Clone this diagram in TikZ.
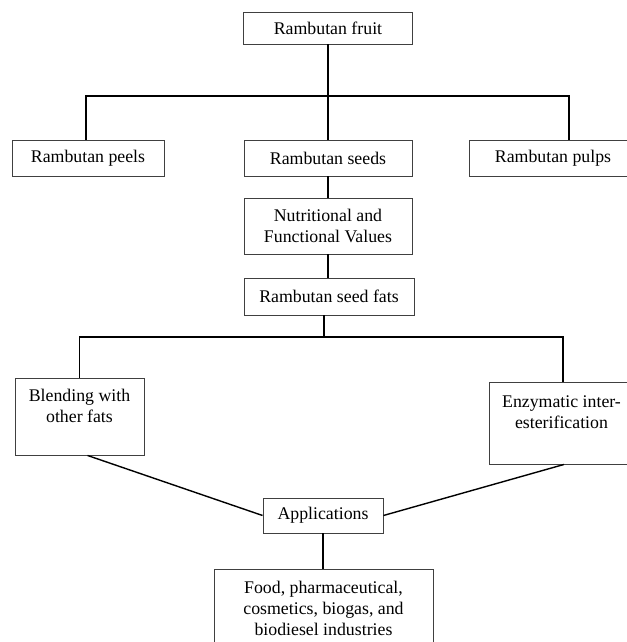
\documentclass[tikz,border=0pt]{standalone}
\usepackage{fontspec}
\setmainfont{Liberation Serif}
\usetikzlibrary{positioning,calc}

\tikzset{
  stage/.style={draw=black!75, line width=0.9pt, fill=white, align=center, inner sep=0pt,
                font=\fontsize{17.8}{21}\selectfont},
  link/.style={line width=1.4pt, black}
}

\begin{document}
\begin{tikzpicture}[x=1pt, y=-1pt]
    \useasboundingbox (0,0) rectangle (626,642);

    % Fruit and its parts
    \node[stage, minimum width=169pt, minimum height=32pt] (fruit) at (328,28) {Rambutan fruit};
    \node[stage, minimum width=152pt, minimum height=36pt] (peels) at (88,158) {Rambutan peels};
    \node[stage, minimum width=168pt, minimum height=36pt] (seeds) at (328,158) {Rambutan seeds};
    \node[stage, minimum width=168pt, minimum height=36pt] (pulps) at (553,158) {Rambutan pulps};
    \coordinate (hubA) at (328,96);

    % Seeds
    \node[stage, minimum width=168pt, minimum height=56pt] (nutri) at (328,226) {Nutritional and\\Functional Values};
    \node[stage, minimum width=170pt, minimum height=37pt] (fats) at (329,296.5) {Rambutan seed fats};
    \coordinate (hubB) at (324,337);

    % Processing
    \node[stage, minimum width=129pt, minimum height=77pt] (blend) at (79.5,416.5) {Blending with\\other fats\\\mbox{}};
    \node[stage, minimum width=145pt, minimum height=82pt] (enzy) at (561.5,423) {Enzymatic inter-\\esterification\\\mbox{}};

    % Uses
    \node[stage, minimum width=120pt, minimum height=35pt] (apps) at (323,515.5) {Applications};
    \node[stage, minimum width=219pt, minimum height=78pt] (food) at (323.5,608) {Food, pharmaceutical,\\cosmetics, biogas, and\\biodiesel industries};

    % Connectors
    \draw[link] (fruit.south) -- (hubA);
    \draw[link] ([xshift=-2pt]peels.north) |- (hubA) -| ([xshift=16pt]pulps.north);
    \draw[link] (seeds.north) -- (hubA);
    \draw[link] (seeds.south) -- (nutri.north);
    \draw[link] (nutri.south) -- (nutri.south |- fats.north);
    \draw[link] (hubB |- fats.south) -- (hubB);
    \draw[link] (blend.north) |- (hubB) -| ([xshift=1.5pt]enzy.north);
    \draw[link] ([xshift=8pt]blend.south) -- (apps.west);
    \draw[link] ([xshift=2.5pt]enzy.south) -- (apps.east);
    \draw[link] (apps.south) -- (apps.south |- food.north);
\end{tikzpicture}
\end{document}
